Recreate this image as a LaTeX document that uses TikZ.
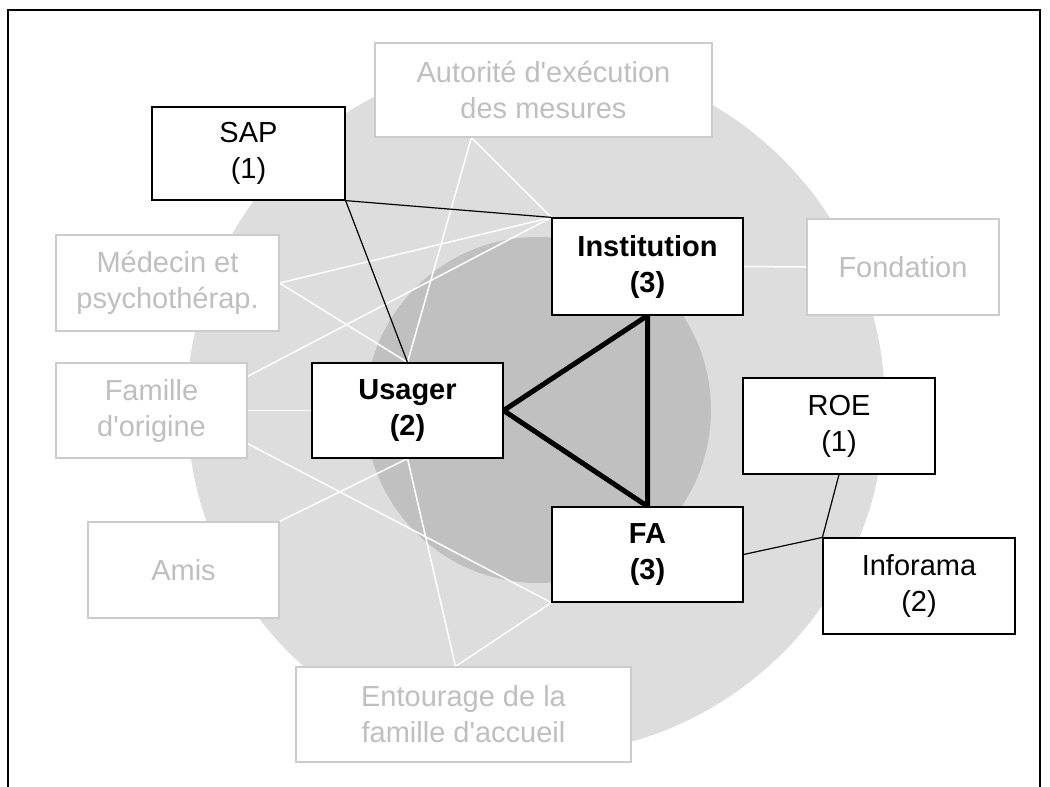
\documentclass[tikz,border=0pt]{standalone}
\usepackage{fontspec}
\setmainfont{Liberation Sans}[Ligatures=TeXOff]
\usetikzlibrary{positioning}
\definecolor{ringlight}{HTML}{DDDDDD}
\definecolor{ringdark}{HTML}{C0C0C0}
\definecolor{fadetext}{HTML}{BFBFBF}
\definecolor{fadeline}{HTML}{CCCCCC}
\tikzset{
  actor/.style={draw=black, line width=1.2pt, fill=white, rectangle, inner sep=0pt,
    align=center, font=\fontsize{29}{36}\selectfont},
  coreactor/.style={actor, font=\fontsize{29}{36}\selectfont\bfseries},
  faded/.style={draw=fadeline, line width=1.2pt, fill=white, rectangle, inner sep=0pt,
    align=center, text=fadetext, font=\fontsize{29}{36}\selectfont},
  weaklink/.style={draw=white, line width=1.5pt},
  link/.style={draw=black, line width=1.2pt},
  stronglink/.style={draw=black, line width=5pt, line join=miter},
}
\begin{document}
\begin{tikzpicture}[x=1pt,y=-1pt]
\useasboundingbox (0,0) rectangle (1050,787);
% outer frame
\draw[line width=2pt] (8,787) -- (8,10) -- (1040,10) -- (1040,787);
% concentric zones
\fill[ringlight] (536,406) circle[radius=349];
\fill[ringdark] (538,410) circle[radius=173];

% boxes (placed first so that links can refer to them, redrawn on top below)
\path
  (248.5,153.5) node[actor, minimum width=193pt, minimum height=93pt] (sap) {SAP\\(1)}
  (543.5,90) node[faded, minimum width=337pt, minimum height=94pt] (aut) {Autorité d'exécution\\des mesures}
  (647.5,266.5) node[coreactor, minimum width=191pt, minimum height=97pt] (inst) {Institution\\(3)}
  (903,267) node[faded, minimum width=192pt, minimum height=96pt] (fond) {Fondation}
  (167.5,283) node[faded, minimum width=223pt, minimum height=96pt] (med) {Médecin et\\psychothérap.}
  (151.5,410.5) node[faded, minimum width=191pt, minimum height=95pt] (fam) {Famille\\d'origine}
  (407.5,410.5) node[coreactor, minimum width=191pt, minimum height=95pt] (usa) {Usager\\(2)}
  (839,426) node[actor, minimum width=192pt, minimum height=96pt] (roe) {ROE\\(1)}
  (647.5,554.5) node[coreactor, minimum width=191pt, minimum height=95pt] (fa) {FA\\(3)}
  (919,586) node[actor, minimum width=192pt, minimum height=96pt] (inf) {Inforama\\(2)}
  (183.5,570) node[faded, minimum width=191pt, minimum height=96pt] (amis) {Amis}
  (463.5,714.5) node[faded, minimum width=335pt, minimum height=95pt] (ent) {Entourage de la\\famille d'accueil};

% attachment points that are not standard anchors
\coordinate (autfoot) at ([xshift=97pt]aut.south west);
\coordinate (famhigh) at ([yshift=-14pt]fam.north east);
\coordinate (famlow) at ([yshift=15pt]fam.south east);
\coordinate (enthead) at ([xshift=-8pt]ent.north);

% weak (faded) links
\draw[weaklink] (autfoot) -- (usa.north);
\draw[weaklink] (autfoot) -- (inst.north west);
\draw[weaklink] (med.east) -- (inst.north west);
\draw[weaklink] (med.east) -- (usa.north);
\draw[weaklink] (famhigh) -- (inst.north west);
\draw[weaklink] (fam.east) -- (usa.west);
\draw[weaklink] (famlow) -- (fa.south west);
\draw[weaklink] (amis.north east) -- (usa.south);
\draw[weaklink] (enthead) -- (usa.south);
\draw[weaklink] (enthead) -- (fa.south west);
\draw[weaklink] (inst.east) -- (fond.west);

% ordinary links
\draw[link] (sap.south east) -- (usa.north);
\draw[link] (sap.south east) -- (inst.north west);
\draw[link] (fa.east) -- (inf.north west);
\draw[link] (roe.south) -- (inf.north west);

% core triangle
\draw[stronglink] (usa.east) -- (inst.south) -- (fa.north) -- cycle;

% boxes on top of the links
\path
  (sap) node[actor, minimum width=193pt, minimum height=93pt] {SAP\\(1)}
  (aut) node[faded, minimum width=337pt, minimum height=94pt] {Autorité d'exécution\\des mesures}
  (inst) node[coreactor, minimum width=191pt, minimum height=97pt] {Institution\\(3)}
  (fond) node[faded, minimum width=192pt, minimum height=96pt] {Fondation}
  (med) node[faded, minimum width=223pt, minimum height=96pt] {Médecin et\\psychothérap.}
  (fam) node[faded, minimum width=191pt, minimum height=95pt] {Famille\\d'origine}
  (usa) node[coreactor, minimum width=191pt, minimum height=95pt] {Usager\\(2)}
  (roe) node[actor, minimum width=192pt, minimum height=96pt] {ROE\\(1)}
  (fa) node[coreactor, minimum width=191pt, minimum height=95pt] {FA\\(3)}
  (inf) node[actor, minimum width=192pt, minimum height=96pt] {Inforama\\(2)}
  (amis) node[faded, minimum width=191pt, minimum height=96pt] {Amis}
  (ent) node[faded, minimum width=335pt, minimum height=95pt] {Entourage de la\\famille d'accueil};
\end{tikzpicture}
\end{document}
